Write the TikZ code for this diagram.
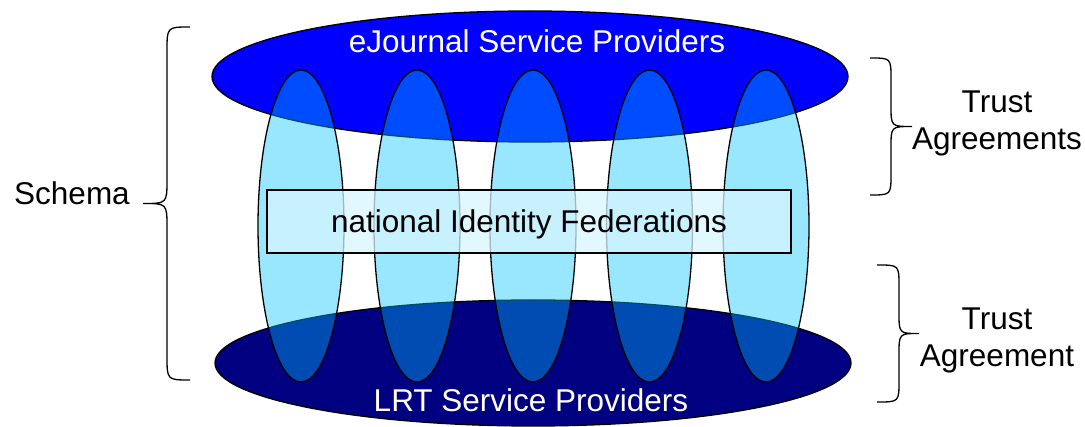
\documentclass[tikz,border=0pt]{standalone}
\usepackage{fontspec}
\setmainfont{Liberation Sans}
\usetikzlibrary{shapes.geometric}

\definecolor{ejblue}{RGB}{0,0,255}
\definecolor{lrtnavy}{RGB}{0,0,128}
\definecolor{fedcyan}{RGB}{0,192,255}
\definecolor{nifill}{RGB}{215,245,255}

\tikzset{
  outline/.style={draw=black, line width=1.3pt},
  provider/.style={outline, ellipse, inner sep=0pt, minimum width=636pt},
  federation/.style={outline, ellipse, inner sep=0pt, minimum width=86pt,
    minimum height=312pt, fill=fedcyan, fill opacity=0.4, draw opacity=1},
  nifbox/.style={outline, rectangle, inner sep=0pt, minimum width=524pt,
    minimum height=63pt, fill=nifill, fill opacity=0.75},
  label text/.style={inner sep=0pt, anchor=base,
    font=\fontsize{31.5}{37}\selectfont},
  brace line/.style={draw=black, line width=1.3pt},
}

% vertical curly brace: end x, spine x, tip x, top y, bottom y, curl radius
\newcommand{\curlybrace}[6]{%
  \draw[brace line] (#1,#4) .. controls (#2,#4) .. (#2,#4+#6)
    -- (#2,{(#4+#5)/2-#6}) .. controls (#2,{(#4+#5)/2}) .. (#3,{(#4+#5)/2})
    .. controls (#2,{(#4+#5)/2}) .. (#2,{(#4+#5)/2+#6})
    -- (#2,#5-#6) .. controls (#2,#5) .. (#1,#5);}

\begin{document}
\begin{tikzpicture}[x=1pt, y=-1pt]
  \useasboundingbox (0,0) rectangle (1085,427);

  % provider layers
  \node[provider, fill=ejblue, minimum height=131pt] (ejournal) at (530,76.5) {};
  \node[provider, fill=lrtnavy, minimum height=126pt] (lrt) at (533,363) {};

  % national federations spanning both layers
  \foreach \i/\x in {1/301, 2/417, 3/533, 4/649.5, 5/766}
    \node[federation] (fed\i) at (\x,226) {};

  % national identity federation band
  \node[nifbox] (nif) at (529,221.5) {};

  % texts
  \node[label text, text=white] (ejtext) at (537,53) {eJournal Service Providers};
  \node[label text, text=white] (lrttext) at (531,412) {LRT Service Providers};
  \node[label text] (niftext) at (529,233) {national Identity Federations};
  \node[label text] (schema) at (72,205) {Schema};
  \node[label text] (trustA) at (997,113) {Trust};
  \node[label text] (agreeA) at (997,150) {Agreements};
  \node[label text] (trustB) at (997,330) {Trust};
  \node[label text] (agreeB) at (997,367) {Agreement};

  % braces
  \curlybrace{190}{167}{143}{27}{380}{24}
  \curlybrace{870}{891}{912}{58}{195}{21}
  \curlybrace{877}{899}{919}{265}{402}{21}
\end{tikzpicture}
\end{document}
